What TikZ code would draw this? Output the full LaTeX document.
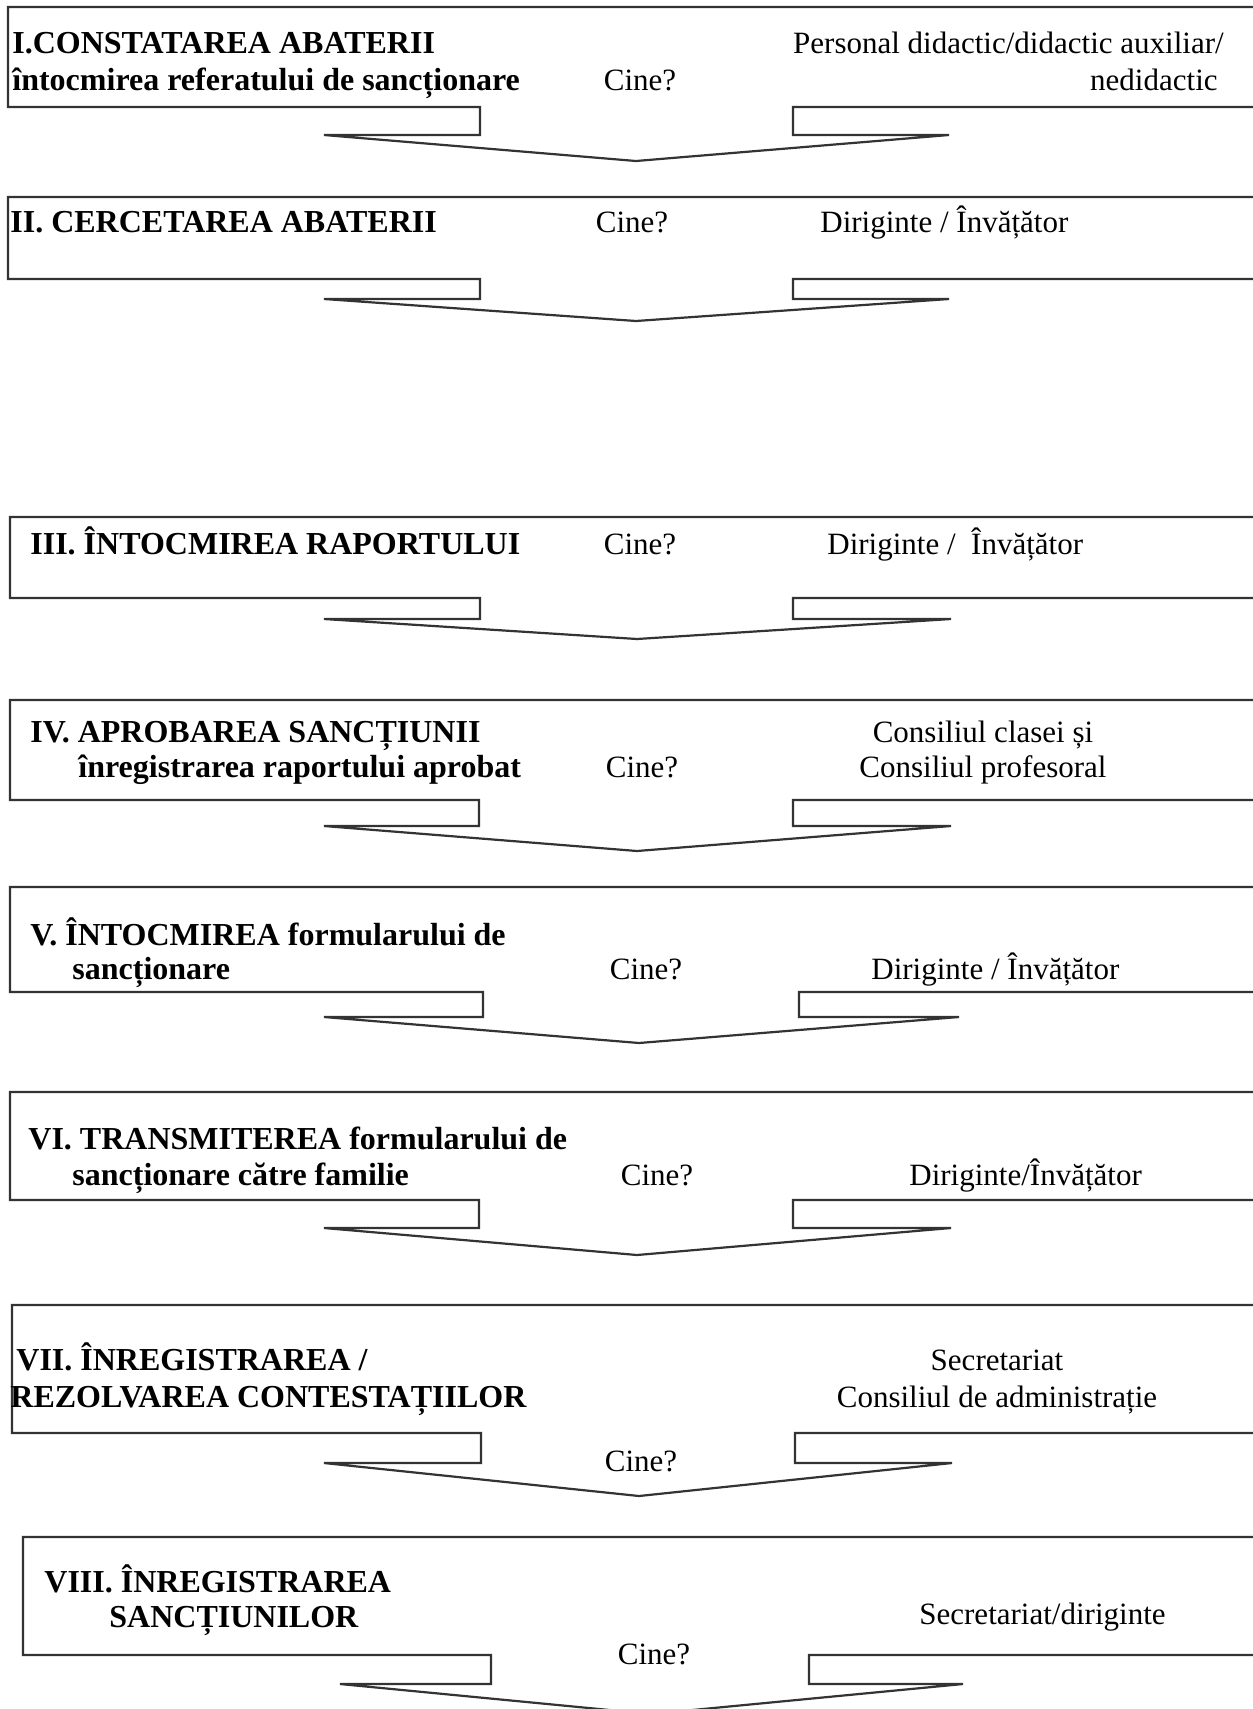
\documentclass[tikz,border=0pt]{standalone}
\usepackage{fontspec}
\setmainfont{Liberation Serif}
\usepackage{tikz}

\begin{document}
\begin{tikzpicture}[x=0.5pt,y=-0.5pt,
  stepshape/.style={draw=black!80,line width=1.1pt,line join=miter},
  txt/.style={inner sep=0pt,font=\fontsize{15.5}{18.5}\selectfont},
  hd/.style={txt,font=\fontsize{16}{19}\selectfont\bfseries,anchor=base west},
  who/.style={txt,anchor=base},
  cine/.style={txt,anchor=base}]
\useasboundingbox (0,0) rectangle (1253,1709);
\clip (0,0) rectangle (1253,1709);

% I
\draw[stepshape] (1270,7) -- (8,7) -- (8,107) -- (480,107) -- (480,135) -- (324,135)
  -- (636,161) -- (949,135) -- (793,135) -- (793,107) -- (1270,107);
\node[hd] at (12,53) (h1a) {I.CONSTATAREA ABATERII};
\node[hd] at (12,90) (h1b) {întocmirea referatului de sancționare};
\node[cine] at (640,90) (c1) {Cine?};
\node[txt,anchor=base east] at (1224,53) (w1a) {Personal didactic/didactic auxiliar/};
\node[txt,anchor=base east] at (1218,90) (w1b) {nedidactic};

% II
\draw[stepshape] (1270,197) -- (8,197) -- (8,279) -- (480,279) -- (480,299) -- (324,299)
  -- (636,321) -- (949,299) -- (793,299) -- (793,279) -- (1270,279);
\node[hd] at (10,232) (h2) {II. CERCETAREA ABATERII};
\node[cine] at (632,232) (c2) {Cine?};
\node[txt,anchor=base west] at (820,232) (w2) {Diriginte / Învățător};

% III
\draw[stepshape] (1270,517) -- (10,517) -- (10,598) -- (480,598) -- (480,619) -- (324,619)
  -- (637,639) -- (951,619) -- (793,619) -- (793,598) -- (1270,598);
\node[hd] at (30,554) (h3) {III. ÎNTOCMIREA RAPORTULUI};
\node[cine] at (640,554) (c3) {Cine?};
\node[txt,anchor=base west] at (827,554) (w3) {Diriginte /\ \ Învățător};

% IV
\draw[stepshape] (1270,700) -- (10,700) -- (10,800) -- (479,800) -- (479,826) -- (324,826)
  -- (637,851) -- (951,826) -- (793,826) -- (793,800) -- (1270,800);
\node[hd] at (30,742) (h4a) {IV. APROBAREA SANCȚIUNII};
\node[hd] at (78,777) (h4b) {înregistrarea raportului aprobat};
\node[cine] at (642,777) (c4) {Cine?};
\node[who] at (983,742) (w4a) {Consiliul clasei și};
\node[who] at (983,777) (w4b) {Consiliul profesoral};

% V
\draw[stepshape] (1270,887) -- (10,887) -- (10,992) -- (483,992) -- (483,1017) -- (324,1017)
  -- (639,1043) -- (959,1017) -- (799,1017) -- (799,992) -- (1270,992);
\node[hd] at (30,945) (h5a) {V. ÎNTOCMIREA formularului de};
\node[hd] at (72,979) (h5b) {sancționare};
\node[cine] at (646,979) (c5) {Cine?};
\node[txt,anchor=base west] at (871,979) (w5) {Diriginte / Învățător};

% VI
\draw[stepshape] (1270,1092) -- (10,1092) -- (10,1200) -- (479,1200) -- (479,1228) -- (324,1228)
  -- (637,1255) -- (951,1228) -- (793,1228) -- (793,1200) -- (1270,1200);
\node[hd] at (28,1149) (h6a) {VI. TRANSMITEREA formularului de};
\node[hd] at (72,1185) (h6b) {sancționare către familie};
\node[cine] at (657,1185) (c6) {Cine?};
\node[txt,anchor=base west] at (909,1185) (w6) {Diriginte/Învățător};

% VII
\draw[stepshape] (1270,1305) -- (12,1305) -- (12,1433) -- (481,1433) -- (481,1463) -- (324,1463)
  -- (639,1496) -- (952,1463) -- (795,1463) -- (795,1433) -- (1270,1433);
\node[hd] at (16,1370) (h7a) {VII. ÎNREGISTRAREA /};
\node[hd] at (10,1407) (h7b) {REZOLVAREA CONTESTAȚIILOR};
\node[who] at (997,1370) (w7a) {Secretariat};
\node[who] at (997,1407) (w7b) {Consiliul de administrație};
\node[cine] at (641,1471) (c7) {Cine?};

% VIII
\draw[stepshape] (1270,1537) -- (23,1537) -- (23,1655) -- (491,1655) -- (491,1684) -- (340,1684)
  -- (651,1714) -- (963,1684) -- (809,1684) -- (809,1655) -- (1270,1655);
\node[hd] at (44,1592) (h8a) {VIII. ÎNREGISTRAREA};
\node[hd] at (109,1627) (h8b) {SANCȚIUNILOR};
\node[txt,anchor=base west] at (919,1624) (w8) {Secretariat/diriginte};
\node[cine] at (654,1664) (c8) {Cine?};
\end{tikzpicture}
\end{document}
